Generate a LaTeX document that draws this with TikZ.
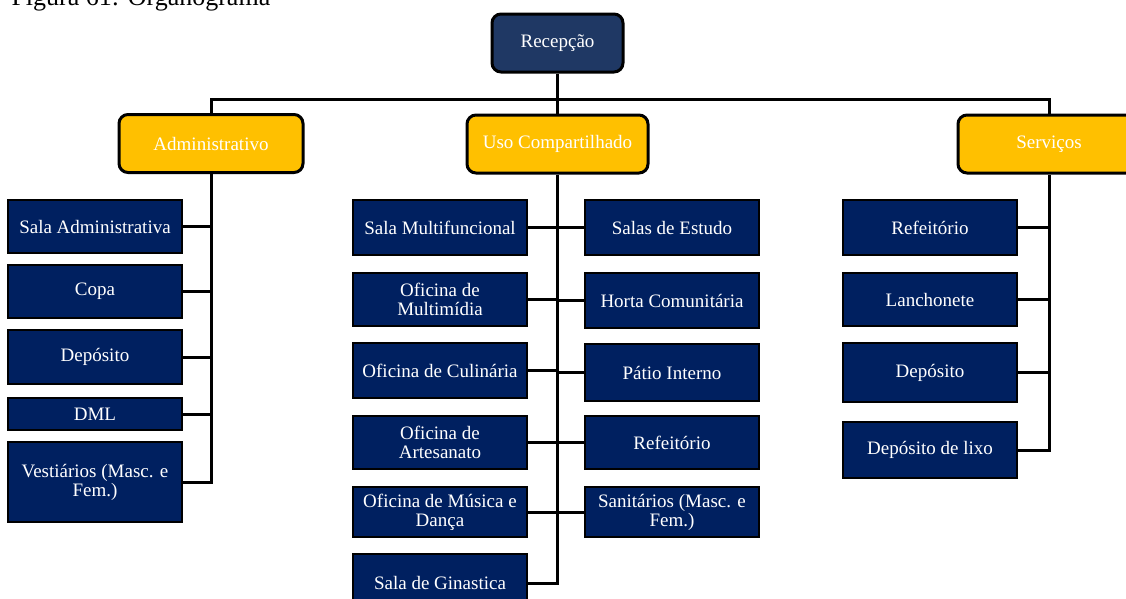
\documentclass[tikz,border=0pt]{standalone}
\usepackage{fontspec}
\setmainfont{Liberation Serif}
\definecolor{navy}{HTML}{002060}
\definecolor{topblue}{HTML}{1F3864}
\definecolor{gold}{HTML}{FFC000}
\begin{document}
\begin{tikzpicture}[x=1pt,y=-1pt,
	head/.style={draw=black,line width=3pt,rounded corners=9pt,text=white,
		font=\fontsize{19}{20}\selectfont,minimum height=58pt},
	room/.style={draw=black,line width=1.2pt,fill=navy,text=white,align=center,
		minimum width=174pt,inner sep=1pt,font=\fontsize{19}{19}\selectfont},
	link/.style={line width=3pt}]
	\useasboundingbox (0,0) rectangle (1126,598);
	\node[anchor=base west,font=\fontsize{26}{30}\selectfont] (title) at (8,5) {Figura 61: Organograma};
	\node[head,fill=topblue,minimum width=131pt] (rec) at (557.5,43) {Recepção};
	\node[head,fill=gold,minimum width=184pt] (adm) at (211,143.5) {Administrativo};
	\node[head,fill=gold,minimum width=181pt] (uso) at (557.5,144) {Uso Compartilhado};
	\node[head,fill=gold,minimum width=182pt] (srv) at (1049,144) {Serviços};
	\coordinate (bar) at (557.5,99);
	\draw[link] (rec) -- (uso);
	\draw[link] (adm.north) -- (adm.north |- bar) -- (srv.north |- bar) -- (srv.north);
	\foreach \i/\y/\h/\txt in {1/226.5/53/Sala Administrativa,2/291.5/53/Copa,
			3/357/54/Depósito,4/414/32/DML,5/482/80/{Vestiários (Masc. e\\Fem.)}}
		\node[room,minimum height=\h pt] (a\i) at (95,\y) {\txt};
	\foreach \i/\y/\h/\txt in {1/227.5/55/Sala Multifuncional,2/299.5/53/{Oficina de\\Multimídia},
			3/370.5/55/Oficina de Culinária,4/442.5/53/{Oficina de\\Artesanato},
			5/512/50/{Oficina de Música e\\Dança},6/583/58/Sala de Ginastica}
		\node[room,minimum height=\h pt] (u\i) at (440,\y) {\txt};
	\foreach \i/\y/\h/\txt in {1/227.5/55/Salas de Estudo,2/300.5/55/Horta Comunitária,
			3/372.5/57/Pátio Interno,4/442.5/53/Refeitório,5/512/50/{Sanitários (Masc. e\\Fem.)}}
		\node[room,minimum height=\h pt] (v\i) at (672,\y) {\txt};
	\foreach \i/\y/\h/\txt in {1/227.5/55/Refeitório,2/299.5/53/Lanchonete,
			3/372.5/59/Depósito,4/450/56/Depósito de lixo}
		\node[room,minimum height=\h pt] (s\i) at (930,\y) {\txt};
	\draw[link] (adm.south) -- (adm.south |- a5.east) -- (a5.east);
	\foreach \i in {1,...,4}
		\draw[link] (a\i.east) -- (a\i.east -| adm.south);
	\draw[link] (uso.south) -- (uso.south |- u6.east) -- (u6.east);
	\foreach \i in {1,...,5}
		\draw[link] (u\i.east) -- (u\i.east -| uso.south) (v\i.west) -- (v\i.west -| uso.south);
	\draw[link] (srv.south) -- (srv.south |- s4.east) -- (s4.east);
	\foreach \i in {1,...,3}
		\draw[link] (s\i.east) -- (s\i.east -| srv.south);
\end{tikzpicture}
\end{document}
